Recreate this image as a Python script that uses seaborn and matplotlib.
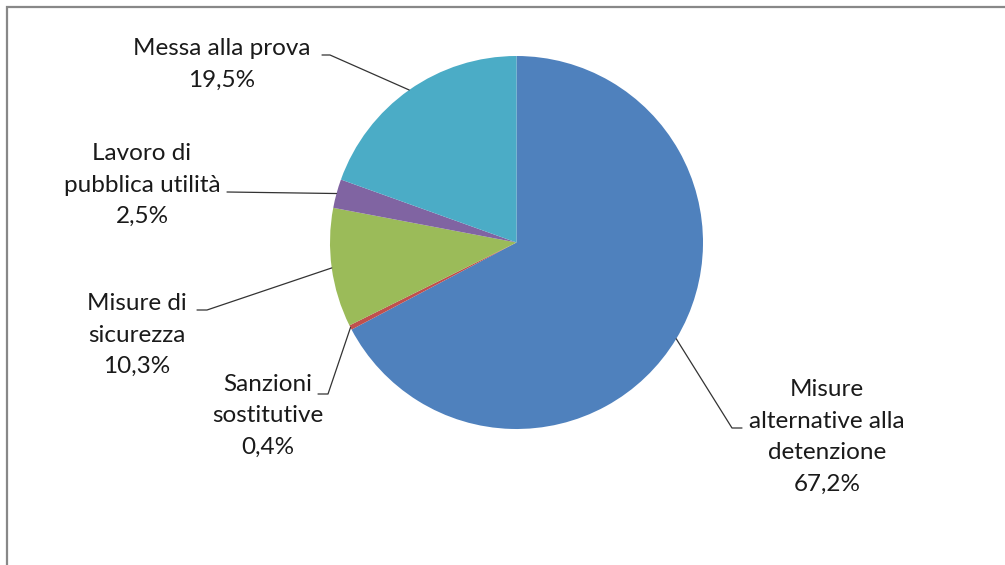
import numpy as np
import matplotlib
matplotlib.use("Agg")
import matplotlib.pyplot as plt
import seaborn as sns

# dati
categorie = ["Misure\nalternative alla\ndetenzione", "Sanzioni\nsostitutive",
             "Misure di\nsicurezza", "Lavoro di\npubblica utilità", "Messa alla prova"]
valori = [67.2, 0.4, 10.3, 2.5, 19.5]
etichette_pct = ["67,2%", "0,4%", "10,3%", "2,5%", "19,5%"]
colori = ["#4F81BD", "#C0504D", "#9BBB59", "#8064A2", "#4BACC6"]

sns.set_style("white")
plt.rcParams['font.family'] = ['Lato', 'DejaVu Sans']

W, H = 1005, 565
fig = plt.figure(figsize=(W / 100, H / 100), dpi=100)
ax = fig.add_axes([0, 0, 1, 1])

cx, cy, r = 516.5, 242.5, 186.5
# y invertito -> counterclock=True gira in senso orario sullo schermo, angolo -90 = ore 12
wedges, _ = ax.pie(valori, colors=colori, startangle=-90, counterclock=True,
                   center=(cx, cy), radius=r, frame=True,
                   wedgeprops={'linewidth': 0})
ax.set_xlim(0, W)
ax.set_ylim(H, 0)
ax.set_aspect('equal')
ax.axis('off')

# posizioni etichette (centro blocco) e gomiti delle linee guida
pos_testo = [(827, 437), (268, 416), (137, 335), (142, 185), (222, 64)]
gomiti = [[(732, 428), (742, 428)],
          [(328, 394), (318, 394)],
          [(207, 310), (197, 310)],
          [(227, 192)],
          [(330, 55), (322, 55)]]

for w, cat, pct, (tx, ty), gom in zip(wedges, categorie, etichette_pct, pos_testo, gomiti):
    ang = np.deg2rad((w.theta1 + w.theta2) / 2)
    ax_ = cx + r * np.cos(ang)
    ay_ = cy + r * np.sin(ang)
    xs = [ax_] + [p[0] for p in gom]
    ys = [ay_] + [p[1] for p in gom]
    ax.plot(xs, ys, color='#333333', lw=0.9)
    ax.text(tx, ty, cat + "\n" + pct, ha='center', va='center', multialignment='center',
            fontsize=17.5, color='#1a1a1a', linespacing=1.63)

# cornice
fig.add_artist(plt.Rectangle((6.5 / W, -0.05), 1.1, 1 - 6.5 / H + 0.05,
                             transform=fig.transFigure, fill=False,
                             edgecolor='#888888', lw=1.6))

fig.savefig('out.png', dpi=100)
